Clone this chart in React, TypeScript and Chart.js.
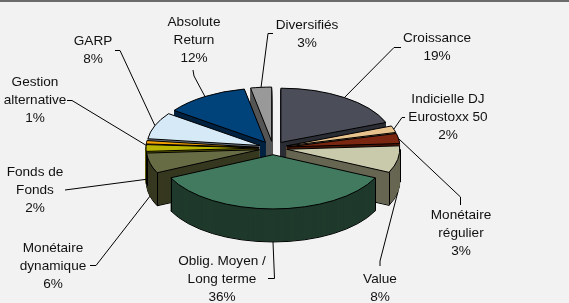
import React, { useEffect, useRef } from 'react';
import { Chart, registerables, ArcElement } from 'chart.js';

Chart.register(...registerables);

// ---- data ----
const categories: string[] = [
  'Croissance',
  'Indicielle DJ\nEurostoxx 50',
  'Monétaire\nrégulier',
  'Value',
  'Oblig. Moyen /\nLong terme',
  'Monétaire\ndynamique',
  'Fonds de\nFonds',
  'Gestion\nalternative',
  'GARP',
  'Absolute\nReturn',
  'Diversifiés',
];
const shares: number[] = [19, 2, 3, 8, 36, 6, 2, 1, 8, 12, 3];

// ---- styles ----
const topColors: string[] = [
  '#4b4e58', '#e9c38e', '#7b2611', '#c9c9ab', '#417a5f', '#686c45',
  '#b9b500', '#f5a300', '#d5e9f7', '#00427a', '#999999',
];
const sideColors: string[] = [
  '#2c2e36', '#8a7350', '#4a1508', '#666652', '#1f3a2c', '#36381f',
  '#5e5c00', '#7a5100', '#6a7580', '#002240', '#555555',
];

// ---- layout ----
const W = 569;
const H = 303;
const CX = 273;
const CY = 148;
const RADIUS = 113;
const EXPLODE = 14;
const TILT = 0.48;
const DEPTH = 33;
const FONT = '13.6px "Liberation Sans", Arial, sans-serif';
const LINE_H = 18;

type LabelPos = { x: number; y: number; path: number[][]; depth: number };
const labelLayout: LabelPos[] = [
  { x: 437, y: 38.5, path: [[401, 47.5], [394, 47.5]], depth: 0 },
  { x: 448, y: 99.5, path: [[405, 117.5], [402, 117.5]], depth: 0 },
  { x: 461, y: 215, path: [[460.5, 205], [460.5, 197]], depth: 0 },
  { x: 380, y: 279, path: [[380, 266], [380, 261]], depth: 1 },
  { x: 222, y: 261.5, path: [[268, 278.5], [274.5, 278.5]], depth: 1 },
  { x: 53, y: 248, path: [[90, 265.5], [96, 265.5]], depth: 1 },
  { x: 35, y: 172, path: [[65, 190]], depth: 0.95 },
  { x: 35, y: 82, path: [[67, 100.5], [72, 100.5]], depth: 0.1 },
  { x: 93, y: 41.5, path: [[115, 50.5], [120, 50.5]], depth: 0 },
  { x: 194, y: 22.5, path: [[193, 70], [194, 76]], depth: 0 },
  { x: 307, y: 25, path: [[273, 33.5], [268, 33.5]], depth: 0 },
];

const pie3d = {
  id: 'pie3d',
  beforeDraw(chart: any) {
    const ctx = chart.ctx;
    ctx.save();
    ctx.fillStyle = '#f2f2f2';
    ctx.fillRect(0, 0, chart.width, chart.height);
    ctx.fillStyle = '#6b6b6b';
    ctx.fillRect(0, 0, chart.width, 2);
    ctx.restore();
  },
  beforeDatasetsDraw(chart: any) {
    const ctx = chart.ctx;
    const meta = chart.getDatasetMeta(0);
    const arcs = meta.data;
    const dpr = chart.currentDevicePixelRatio || 1;
    const origStroke = ctx.stroke;
    ctx.stroke = function (...a: any[]) {
      ctx.save();
      ctx.setTransform(dpr, 0, 0, dpr, 0, 0);
      origStroke.apply(ctx, a);
      ctx.restore();
    };
    const drawLayer = (dy: number, fills: string[], borders: (i: number) => string, bw: number) => {
      arcs.forEach((arc: any, i: number) => {
        const mid = (arc.startAngle + arc.endAngle) / 2;
        ctx.save();
        ctx.translate(0, CY + dy);
        ctx.scale(1, TILT);
        ctx.translate(Math.cos(mid) * EXPLODE, Math.sin(mid) * EXPLODE - arc.y);
        const fake = Object.create(arc);
        const o = Object.create(arc.options);
        o.offset = 0;
        o.backgroundColor = fills[i];
        o.borderColor = borders(i);
        o.borderWidth = bw;
        o.borderAlign = 'center';
        fake.options = o;
        (ArcElement.prototype as any).draw.call(fake, ctx);
        ctx.restore();
      });
    };
    for (let d = DEPTH; d >= 1; d--) {
      if (d === DEPTH) drawLayer(d, sideColors, () => '#000', 1);
      else drawLayer(d, sideColors, (i) => sideColors[i], 1);
    }
    delete ctx.stroke;

    // vertical edges of the side walls (hidden ones get covered by the tops)
    ctx.save();
    ctx.strokeStyle = '#000';
    ctx.lineWidth = 1;
    arcs.forEach((arc: any) => {
      const mid = (arc.startAngle + arc.endAngle) / 2;
      const ox = Math.cos(mid) * EXPLODE;
      const oy = Math.sin(mid) * EXPLODE;
      const r = arc.outerRadius;
      const angles = [arc.startAngle, arc.endAngle];
      [0, Math.PI, 2 * Math.PI].forEach((a) => {
        if (a > arc.startAngle && a < arc.endAngle) angles.push(a);
      });
      angles.forEach((a) => {
        if (Math.sin(a) < -0.05) return;
        const x = Math.round(arc.x + ox + Math.cos(a) * r) + 0.5;
        const y = CY + TILT * (oy + Math.sin(a) * r);
        ctx.beginPath();
        ctx.moveTo(x, y);
        ctx.lineTo(x, y + DEPTH);
        ctx.stroke();
      });
    });
    ctx.restore();

    ctx.stroke = function (...a: any[]) {
      ctx.save();
      ctx.setTransform(dpr, 0, 0, dpr, 0, 0);
      origStroke.apply(ctx, a);
      ctx.restore();
    };
    drawLayer(0, topColors, () => '#000', 1);
    delete ctx.stroke;
    return false;
  },
  afterDraw(chart: any) {
    const ctx = chart.ctx;
    const arcs = chart.getDatasetMeta(0).data;
    ctx.save();
    ctx.strokeStyle = '#000';
    ctx.lineWidth = 1;
    labelLayout.forEach((lab, i) => {
      const arc = arcs[i];
      const mid = (arc.startAngle + arc.endAngle) / 2;
      const r = arc.outerRadius + EXPLODE;
      const ex = arc.x + Math.cos(mid) * r;
      const ey = CY + TILT * Math.sin(mid) * r + lab.depth * DEPTH;
      ctx.beginPath();
      ctx.moveTo(lab.path[0][0], lab.path[0][1]);
      for (let k = 1; k < lab.path.length; k++) ctx.lineTo(lab.path[k][0], lab.path[k][1]);
      ctx.lineTo(ex, ey);
      ctx.stroke();
    });
    ctx.fillStyle = '#111';
    ctx.font = FONT;
    ctx.textAlign = 'center';
    ctx.textBaseline = 'middle';
    labelLayout.forEach((lab, i) => {
      const lines = categories[i].split('\n').concat([shares[i] + '%']);
      lines.forEach((t, j) => ctx.fillText(t, lab.x, lab.y + j * LINE_H));
    });
    ctx.restore();
  },
};

export default function App() {
  const ref = useRef<HTMLCanvasElement | null>(null);
  useEffect(() => {
    if (!ref.current) return;
    const chart = new Chart(ref.current, {
      type: 'pie',
      data: {
        labels: categories.map((c) => c.replace('\n', ' ')),
        datasets: [
          {
            data: shares,
            backgroundColor: topColors,
            borderColor: '#000',
            borderWidth: 1,
          },
        ],
      },
      options: {
        responsive: false,
        animation: false,
        events: [],
        radius: RADIUS,
        layout: { padding: { left: CX - RADIUS, right: W - CX - RADIUS, top: 0, bottom: 0 } },
        plugins: { legend: { display: false }, tooltip: { enabled: false } },
      } as any,
      plugins: [pie3d as any],
    });
    return () => chart.destroy();
  }, []);
  return (
    <div style={{ position: 'fixed', left: 0, top: 0, width: W, height: H }}>
      <canvas ref={ref} width={W} height={H} style={{ width: W, height: H, display: 'block' }} />
    </div>
  );
}
